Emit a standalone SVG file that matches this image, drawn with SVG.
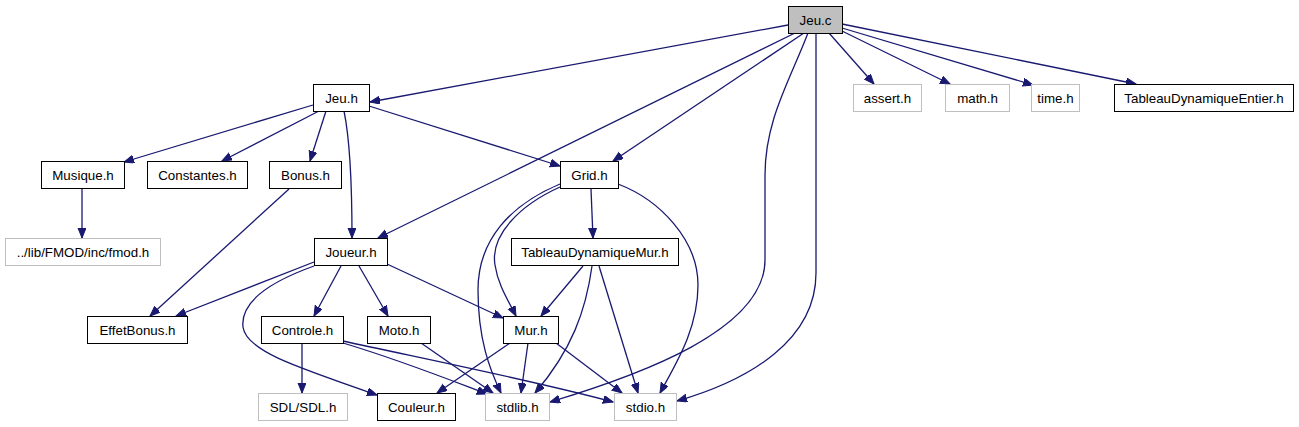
<svg xmlns="http://www.w3.org/2000/svg" width="1299" height="427" viewBox="0 0 1299 427">
<style>
.n rect{fill:#fff;stroke:#000;stroke-width:1}
.n.g rect{stroke:#bfbfbf}
.n.root rect{fill:#bfbfbf;stroke:#000}
text{font-family:"Liberation Sans",Arial,sans-serif;font-size:13.33px;fill:#000;text-anchor:middle}
#edges path{fill:none;stroke:#191970;stroke-width:1.3;marker-end:url(#ah)}
</style>
<defs>
<marker id="ah" markerUnits="userSpaceOnUse" markerWidth="11" markerHeight="9" refX="10" refY="4" orient="auto">
<path d="M0,0 L10,4 L0,8 z" fill="#191970" stroke="#191970" stroke-width="1"/>
</marker>
</defs>
<rect width="1299" height="427" fill="#fff"/>
<g id="edges">
<path d="M788,25 L370,102"/>
<path d="M795,33 L378,238"/>
<path d="M804,33 L613,161"/>
<path d="M808,33 C790,80 765,120 765,175 L765,260 C765,330 640,375 550,402"/>
<path d="M816,33 L816,273 C816,340 750,380 677,401"/>
<path d="M829,33 L874,84"/>
<path d="M842,31 L950,84"/>
<path d="M842,28 L1033,85"/>
<path d="M842,24 L1136,84"/>
<path d="M313,105 L124,162"/>
<path d="M319,111 L222,161"/>
<path d="M326,111 L310,161"/>
<path d="M344,111 C350,140 352,190 352,238"/>
<path d="M369,106 L560,166"/>
<path d="M82,189 L82,238"/>
<path d="M289,189 L150,316"/>
<path d="M591,189 L593,238"/>
<path d="M560,187 C520,205 490,235 495,265 C498,285 508,300 516,316"/>
<path d="M560,184 C510,205 478,240 478,290 C478,340 490,370 501,393"/>
<path d="M618,184 C660,200 698,240 698,285 C698,330 675,365 660,393"/>
<path d="M583,266 L541,316"/>
<path d="M592,266 C586,310 572,350 535,393"/>
<path d="M599,266 L638,393"/>
<path d="M314,262 L176,316"/>
<path d="M314,266 C275,280 240,300 243,327 C246,350 290,365 377,395"/>
<path d="M341,266 L314,316"/>
<path d="M359,266 L388,316"/>
<path d="M387,264 L503,318"/>
<path d="M302,343 L302,393"/>
<path d="M343,343 C400,360 450,380 487,394"/>
<path d="M343,341 C430,360 540,382 613,402"/>
<path d="M421,343 L493,393"/>
<path d="M510,343 L437,393"/>
<path d="M528,343 L521,393"/>
<path d="M556,343 L622,393"/>
</g>
<g id="n_jeu_c" class="n root"><rect x="788.5" y="6.5" width="54" height="27"/><text x="815.5" y="24.5">Jeu.c</text></g>
<g id="n_jeu_h" class="n"><rect x="313.5" y="84.5" width="56" height="27"/><text x="341.5" y="102.5">Jeu.h</text></g>
<g id="n_assert" class="n g"><rect x="853.5" y="84.5" width="68" height="27"/><text x="887.5" y="102.5">assert.h</text></g>
<g id="n_math" class="n g"><rect x="945.5" y="84.5" width="64" height="27"/><text x="977.5" y="102.5">math.h</text></g>
<g id="n_time" class="n g"><rect x="1031.5" y="84.5" width="48" height="27"/><text x="1055.5" y="102.5">time.h</text></g>
<g id="n_tde" class="n"><rect x="1114.5" y="84.5" width="179" height="27"/><text x="1204" y="102.5">TableauDynamiqueEntier.h</text></g>
<g id="n_musique" class="n"><rect x="41.5" y="161.5" width="83" height="27"/><text x="83" y="179.5">Musique.h</text></g>
<g id="n_constantes" class="n"><rect x="147.5" y="161.5" width="100" height="27"/><text x="197.5" y="179.5">Constantes.h</text></g>
<g id="n_bonus" class="n"><rect x="269.5" y="161.5" width="72" height="27"/><text x="305.5" y="179.5">Bonus.h</text></g>
<g id="n_grid" class="n"><rect x="560.5" y="161.5" width="58" height="27"/><text x="589.5" y="179.5">Grid.h</text></g>
<g id="n_fmod" class="n g"><rect x="5.5" y="238.5" width="155" height="27"/><text x="83" y="256.5">../lib/FMOD/inc/fmod.h</text></g>
<g id="n_joueur" class="n"><rect x="314.5" y="238.5" width="73" height="27"/><text x="351" y="256.5">Joueur.h</text></g>
<g id="n_tdm" class="n"><rect x="511.5" y="238.5" width="167" height="27"/><text x="595" y="256.5">TableauDynamiqueMur.h</text></g>
<g id="n_effet" class="n"><rect x="87.5" y="316.5" width="100" height="27"/><text x="137.5" y="334.5">EffetBonus.h</text></g>
<g id="n_controle" class="n"><rect x="261.5" y="316.5" width="82" height="27"/><text x="302.5" y="334.5">Controle.h</text></g>
<g id="n_moto" class="n"><rect x="367.5" y="316.5" width="63" height="27"/><text x="399" y="334.5">Moto.h</text></g>
<g id="n_mur" class="n"><rect x="503.5" y="316.5" width="55" height="27"/><text x="531" y="334.5">Mur.h</text></g>
<g id="n_sdl" class="n g"><rect x="258.5" y="393.5" width="89" height="27"/><text x="303" y="411.5">SDL/SDL.h</text></g>
<g id="n_couleur" class="n"><rect x="377.5" y="393.5" width="78" height="27"/><text x="416.5" y="411.5">Couleur.h</text></g>
<g id="n_stdlib" class="n g"><rect x="485.5" y="393.5" width="64" height="27"/><text x="517.5" y="411.5">stdlib.h</text></g>
<g id="n_stdio" class="n g"><rect x="614.5" y="393.5" width="62" height="27"/><text x="645.5" y="411.5">stdio.h</text></g>
</svg>
